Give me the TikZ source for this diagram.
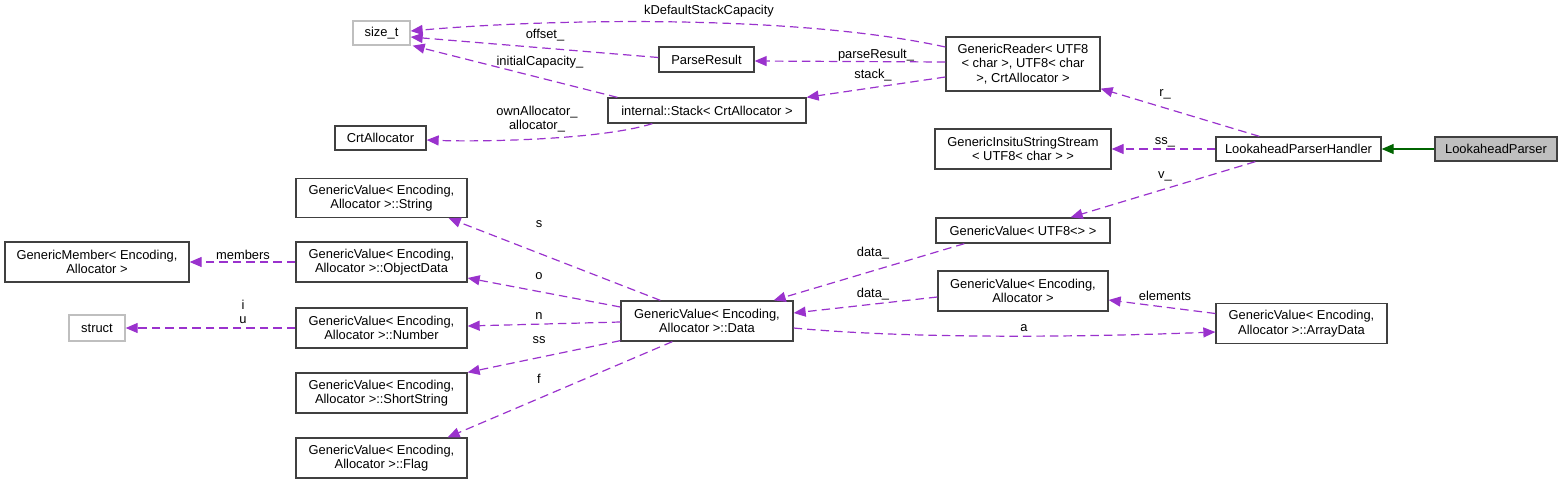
\documentclass[tikz,border=0pt]{standalone}
\usepackage{fontspec}
\setmainfont{Liberation Sans}
\usetikzlibrary{arrows.meta,calc}
\definecolor{edgepurple}{HTML}{9A32CD}
\definecolor{edgegreen}{HTML}{006400}
\definecolor{boxline}{HTML}{404040}
\definecolor{greyline}{HTML}{BFBFBF}
\begin{document}
\begin{tikzpicture}[x=1pt,y=-1pt,
  every node/.style={font=\fontsize{12.9}{14.6}\selectfont, inner sep=0pt, align=center},
  cls/.style={draw=boxline, line width=1.3pt, fill=white},
  ext/.style={draw=greyline, line width=1.3pt, fill=white},
  cur/.style={draw=boxline, line width=1.3pt, fill=greyline},
  use/.style={draw=edgepurple, line width=1.2pt, dash pattern=on 8.5pt off 5pt, -{Triangle[length=12pt,width=10pt]}},
  inh/.style={draw=edgegreen, line width=1.2pt, -{Triangle[length=12pt,width=10pt]}},
  lbl/.style={fill=none}
]
\useasboundingbox (0,0) rectangle (1564,485);

% nodes
\node[ext, minimum width=57pt, minimum height=24pt] (sizet) at (381.5,33) {size\_t};
\node[cls, minimum width=95pt, minimum height=25pt] (parse) at (706.5,59.5) {ParseResult};
\node[cls, minimum width=198pt, minimum height=25pt] (stack) at (707,110.5) {internal::Stack\textless{} CrtAllocator \textgreater};
\node[cls, minimum width=91pt, minimum height=24pt] (crt) at (380.5,138) {CrtAllocator};
\node[cls, minimum width=154pt, minimum height=54pt] (reader) at (1023,64) {GenericReader\textless{} UTF8\\\textless{} char \textgreater, UTF8\textless{} char\\ \textgreater, CrtAllocator \textgreater};
\node[cls, minimum width=176pt, minimum height=40pt] (insitu) at (1023,149) {GenericInsituStringStream\\\textless{} UTF8\textless{} char \textgreater{} \textgreater};
\node[cls, minimum width=165pt, minimum height=24pt] (lph) at (1298.5,149) {LookaheadParserHandler};
\node[cur, minimum width=122pt, minimum height=24pt] (lp) at (1496,149) {LookaheadParser};
\node[cls, minimum width=174pt, minimum height=25pt] (gvutf) at (1023,230.5) {GenericValue\textless{} UTF8\textless\textgreater{} \textgreater};
\node[cls, minimum width=171pt, minimum height=39pt] (str) at (381.5,198) {GenericValue\textless{} Encoding,\\ Allocator \textgreater::String};
\node[cls, minimum width=184pt, minimum height=40pt] (gm) at (97,262) {GenericMember\textless{} Encoding,\\ Allocator \textgreater};
\node[cls, minimum width=171pt, minimum height=40pt] (obj) at (381.5,262) {GenericValue\textless{} Encoding,\\ Allocator \textgreater::ObjectData};
\node[ext, minimum width=56pt, minimum height=26pt] (structn) at (97,328) {struct};
\node[cls, minimum width=171pt, minimum height=40pt] (num) at (381.5,328) {GenericValue\textless{} Encoding,\\ Allocator \textgreater::Number};
\node[cls, minimum width=172pt, minimum height=40pt] (data) at (707,321) {GenericValue\textless{} Encoding,\\ Allocator \textgreater::Data};
\node[cls, minimum width=170pt, minimum height=40pt] (gvea) at (1023,291) {GenericValue\textless{} Encoding,\\ Allocator \textgreater};
\node[cls, minimum width=171pt, minimum height=40pt] (arr) at (1301.5,323.5) {GenericValue\textless{} Encoding,\\ Allocator \textgreater::ArrayData};
\node[cls, minimum width=171pt, minimum height=40pt] (ss) at (381.5,393) {GenericValue\textless{} Encoding,\\ Allocator \textgreater::ShortString};
\node[cls, minimum width=171pt, minimum height=40pt] (flag) at (381.5,458) {GenericValue\textless{} Encoding,\\ Allocator \textgreater::Flag};

% connectors
\draw[use] ($(reader.west)+(0,-17)$) .. controls (800,15) and (560,18) .. ($(sizet.east)+(0,-2)$);
\draw[use] ($(parse.west)+(0,-2)$) -- ($(sizet.east)+(0,4)$);
\draw[use] ($(stack.north west)+(10,0)$) -- ($(sizet.south east)+(2,0)$);
\draw[use] ($(reader.west)+(0,-2)$) -- ($(parse.east)+(0,1.5)$);
\draw[use] ($(reader.west)+(0,13)$) -- (stack.north east);
\draw[use] ($(stack.south west)+(45,0)$) .. controls (600,140) and (480,142) .. ($(crt.east)+(0,2)$);
\draw[use] ($(lph.north west)+(44,0)$) -- ($(reader.south east)+(0,-3)$);
\draw[use] (lph.west) -- (insitu.east);
\draw[use] ($(lph.south west)+(40,0)$) -- ($(gvutf.north east)+(-40,0)$);
\draw[inh] (lp.west) -- (lph.east);
\draw[use] ($(gvutf.south west)+(29,0)$) -- ($(data.north east)+(-20,0)$);
\draw[use] ($(gvea.west)+(0,6)$) -- ($(data.east)+(0,-8)$);
\draw[use] ($(data.east)+(0,7)$) .. controls (900,338) and (1060,338) .. ($(arr.west)+(0,8.5)$);
\draw[use] ($(arr.west)+(0,-10)$) -- ($(gvea.east)+(0,9)$);
\draw[use] ($(data.north west)+(40,0)$) -- ($(str.south east)+(-19,0)$);
\draw[use] ($(data.west)+(0,-14)$) -- ($(obj.east)+(0,16)$);
\draw[use] ($(data.west)+(0,1)$) -- ($(num.east)+(0,-2)$);
\draw[use] ($(data.south west)+(0,-1)$) -- (ss.north east);
\draw[use] ($(data.south west)+(52,0)$) -- ($(flag.north east)+(-20,0)$);
\draw[use] (obj.west) -- (gm.east);
\draw[use] (num.west) -- (structn.east);

% labels
\node[lbl] (l1) at (709,11) {kDefaultStackCapacity};
\node[lbl] (l2) at (545,35) {offset\_};
\node[lbl] (l3) at (540,62) {initialCapacity\_};
\node[lbl] (l4) at (876,55) {parseResult\_};
\node[lbl] (l5) at (873,75) {stack\_};
\node[lbl] (l6) at (537,119) {ownAllocator\_\\allocator\_};
\node[lbl] (l7) at (1165,94) {r\_};
\node[lbl] (l8) at (1165,142) {ss\_};
\node[lbl] (l9) at (1165,176) {v\_};
\node[lbl] (l10) at (873,253) {data\_};
\node[lbl] (l11) at (873,294) {data\_};
\node[lbl] (l12) at (1165,296) {elements};
\node[lbl] (l13) at (1024,328) {a};
\node[lbl] (l14) at (539,224) {s};
\node[lbl] (l15) at (539,276) {o};
\node[lbl] (l16) at (539,316) {n};
\node[lbl] (l17) at (539,340) {ss};
\node[lbl] (l18) at (539,379) {f};
\node[lbl] (l19) at (243,255) {members};
\node[lbl] (l20) at (243,312) {i\\u};
\end{tikzpicture}
\end{document}
